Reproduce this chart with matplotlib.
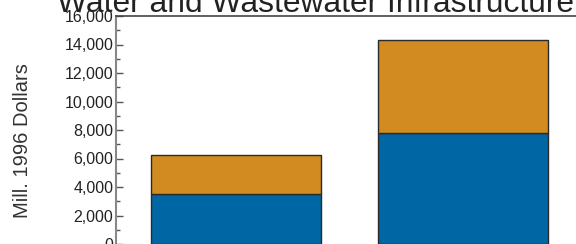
import matplotlib
matplotlib.use("Agg")
import matplotlib.pyplot as plt
import numpy as np

plt.rcParams['font.family'] = ['Liberation Sans', 'DejaVu Sans']

# data
groups = ['A', 'B']
lower = [3500, 7770]
upper_total = [6250, 14350]
upper = [t - l for t, l in zip(upper_total, lower)]
yticks = np.arange(0, 16001, 2000)

fig = plt.figure(figsize=(5.76, 2.44), dpi=100)
ax = fig.add_axes([116 / 576, 0.0, 484 / 576, 228 / 244])

x = np.arange(len(groups))
w = 0.747
ax.bar(x, lower, w, color='#0066A4', edgecolor='#2a2a2a', linewidth=1.0)
ax.bar(x, upper, w, bottom=lower, color='#D18B20', edgecolor='#2a2a2a', linewidth=1.0)

ax.set_xlim(-0.527, 1.6)
ax.set_ylim(0, 16000)
ax.set_yticks(yticks)
ax.set_yticklabels([f'{v:,}' for v in yticks])
ax.set_yticks(np.arange(1000, 16000, 2000), minor=True)
ax.tick_params(axis='y', which='major', direction='in', length=5, width=1,
               pad=2, labelsize=11.5, colors='#555555', labelcolor='#222222')
ax.tick_params(axis='y', which='minor', direction='in', length=3, width=1,
               colors='#555555')
ax.set_xticks([])

ax.spines['bottom'].set_visible(False)
ax.spines['right'].set_visible(False)
ax.spines['left'].set_color('#888888')
ax.spines['left'].set_linewidth(1.5)
ax.spines['top'].set_color('#444444')
ax.spines['top'].set_linewidth(1.2)

fig.text(23 / 576, 0.422, 'Mill. 1996 Dollars', rotation=90, ha='center',
         va='center', fontsize=14.5, color='#333333')
fig.text(57 / 576, 1 - 12.5 / 244, 'Water and Wastewater Infrastructure',
         ha='left', va='baseline', fontsize=22.9, color='#222222')

fig.savefig('out.png', dpi=100)
